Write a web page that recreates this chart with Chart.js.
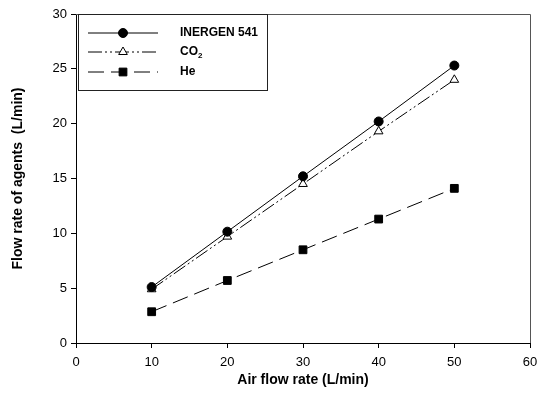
<!DOCTYPE html>
<html>
<head>
<meta charset="utf-8">
<script src="https://cdn.jsdelivr.net/npm/chart.js@4.4.0/dist/chart.umd.min.js"></script>
<style>
  html, body { margin: 0; padding: 0; background: #fff; }
  #wrap { width: 539px; height: 393px; position: relative; }
</style>
</head>
<body>
<div id="wrap"><canvas id="grafico"></canvas></div>
<script>
// datos
const airFlow = [10, 20, 30, 40, 50];
const inergen = [5.1, 10.15, 15.2, 20.2, 25.3];
const co2 = [4.9, 9.7, 14.5, 19.3, 24.0];
const helio = [2.85, 5.7, 8.5, 11.3, 14.1];

const nombres = ['INERGEN 541', 'CO₂', 'He'];

function puntos(valores) {
  return airFlow.map((x, i) => ({ x: x, y: valores[i] }));
}

// leyenda dibujada a mano (linea + marcador, como en el original)
const leyendaCaja = {
  id: 'leyendaCaja',
  afterDraw(chart) {
    const ctx = chart.ctx;
    const area = chart.chartArea;
    const x0 = area.left + 2, y0 = area.top;
    ctx.save();
    ctx.strokeStyle = '#222';
    ctx.lineWidth = 1;
    ctx.strokeRect(x0 + 0.5, y0 + 0.5, 189, 76);
    const filas = [33, 52, 72];
    chart.data.datasets.forEach((ds, i) => {
      const y = filas[i];
      ctx.beginPath();
      ctx.setLineDash(ds.borderDash || []);
      ctx.lineWidth = ds.borderWidth;
      ctx.strokeStyle = ds.borderColor;
      ctx.moveTo(88, y);
      ctx.lineTo(158, y);
      ctx.stroke();
      ctx.setLineDash([]);
      ctx.fillStyle = ds.pointBackgroundColor;
      ctx.strokeStyle = ds.pointBorderColor;
      ctx.lineWidth = 1;
      Chart.helpers.drawPoint(ctx, {
        pointStyle: ds.pointStyle,
        radius: ds.pointRadius,
        borderWidth: 1
      }, 123, y);
      ctx.fillStyle = '#000';
      ctx.font = 'bold 12px "Liberation Sans", Arial, sans-serif';
      ctx.textBaseline = 'middle';
      if (ds.label === 'CO₂') {
        ctx.fillText('CO', 180, y);
        const w = ctx.measureText('CO').width;
        ctx.font = 'bold 8px "Liberation Sans", Arial, sans-serif';
        ctx.fillText('2', 180 + w, y + 4);
      } else {
        ctx.fillText(ds.label, 180, y);
      }
    });
    ctx.restore();
  }
};

// marco completo del area del grafico
const marco = {
  id: 'marco',
  afterDatasetsDraw(chart) {
    const a = chart.chartArea;
    const ctx = chart.ctx;
    ctx.save();
    ctx.strokeStyle = '#555';
    ctx.lineWidth = 1;
    ctx.beginPath();
    ctx.moveTo(a.left, a.top + 0.5);
    ctx.lineTo(a.right + 0.5, a.top + 0.5);
    ctx.lineTo(a.right + 0.5, a.bottom);
    ctx.stroke();
    ctx.restore();
  }
};

const fuente = '"Liberation Sans", Arial, sans-serif';

new Chart(document.getElementById('grafico'), {
  type: 'line',
  data: {
    datasets: [
      {
        label: nombres[0],
        data: puntos(inergen),
        borderColor: '#000',
        borderWidth: 1,
        pointStyle: 'circle',
        pointRadius: 4.5,
        pointBackgroundColor: '#000',
        pointBorderColor: '#000'
      },
      {
        label: nombres[1],
        data: puntos(co2),
        borderColor: '#000',
        borderWidth: 1,
        borderDash: [14, 3, 2, 3, 2, 3],
        pointStyle: 'triangle',
        pointRadius: 5,
        pointBackgroundColor: '#fff',
        pointBorderColor: '#000'
      },
      {
        label: nombres[2],
        data: puntos(helio),
        borderColor: '#000',
        borderWidth: 1,
        borderDash: [16, 7],
        pointStyle: 'rect',
        pointRadius: 5.5,
        pointBackgroundColor: '#000',
        pointBorderColor: '#000'
      }
    ]
  },
  plugins: [marco, leyendaCaja],
  options: {
    responsive: true,
    maintainAspectRatio: false,
    animation: false,
    layout: { padding: { top: 14, right: 9, left: 0, bottom: 0 } },
    plugins: {
      legend: { display: false },
      tooltip: { enabled: false }
    },
    scales: {
      x: {
        type: 'linear',
        min: 0,
        max: 60,
        ticks: { stepSize: 10, color: '#000', font: { family: fuente, size: 13 }, padding: 7 },
        grid: { drawOnChartArea: false, drawTicks: true, tickLength: 5, color: '#000' },
        border: { color: '#000', width: 1 },
        title: {
          display: true,
          text: 'Air flow rate (L/min)',
          color: '#000',
          font: { family: fuente, size: 14, weight: 'bold' },
          padding: { top: 8 }
        },
        afterFit(scale) {
          scale.height = 50;
          scale.paddingRight = 0;
          scale.paddingLeft = 0;
        }
      },
      y: {
        min: 0,
        max: 30,
        ticks: { stepSize: 5, color: '#000', font: { family: fuente, size: 13 }, padding: 4 },
        grid: { drawOnChartArea: false, drawTicks: true, tickLength: 5, color: '#000' },
        border: { color: '#000', width: 1 },
        title: {
          display: true,
          text: 'Flow rate of agents  (L/min)',
          color: '#000',
          font: { family: fuente, size: 14, weight: 'bold' },
          padding: { top: 10, bottom: 10 }
        },
        afterFit(scale) { scale.width = 76; }
      }
    }
  }
});
</script>
</body>
</html>
